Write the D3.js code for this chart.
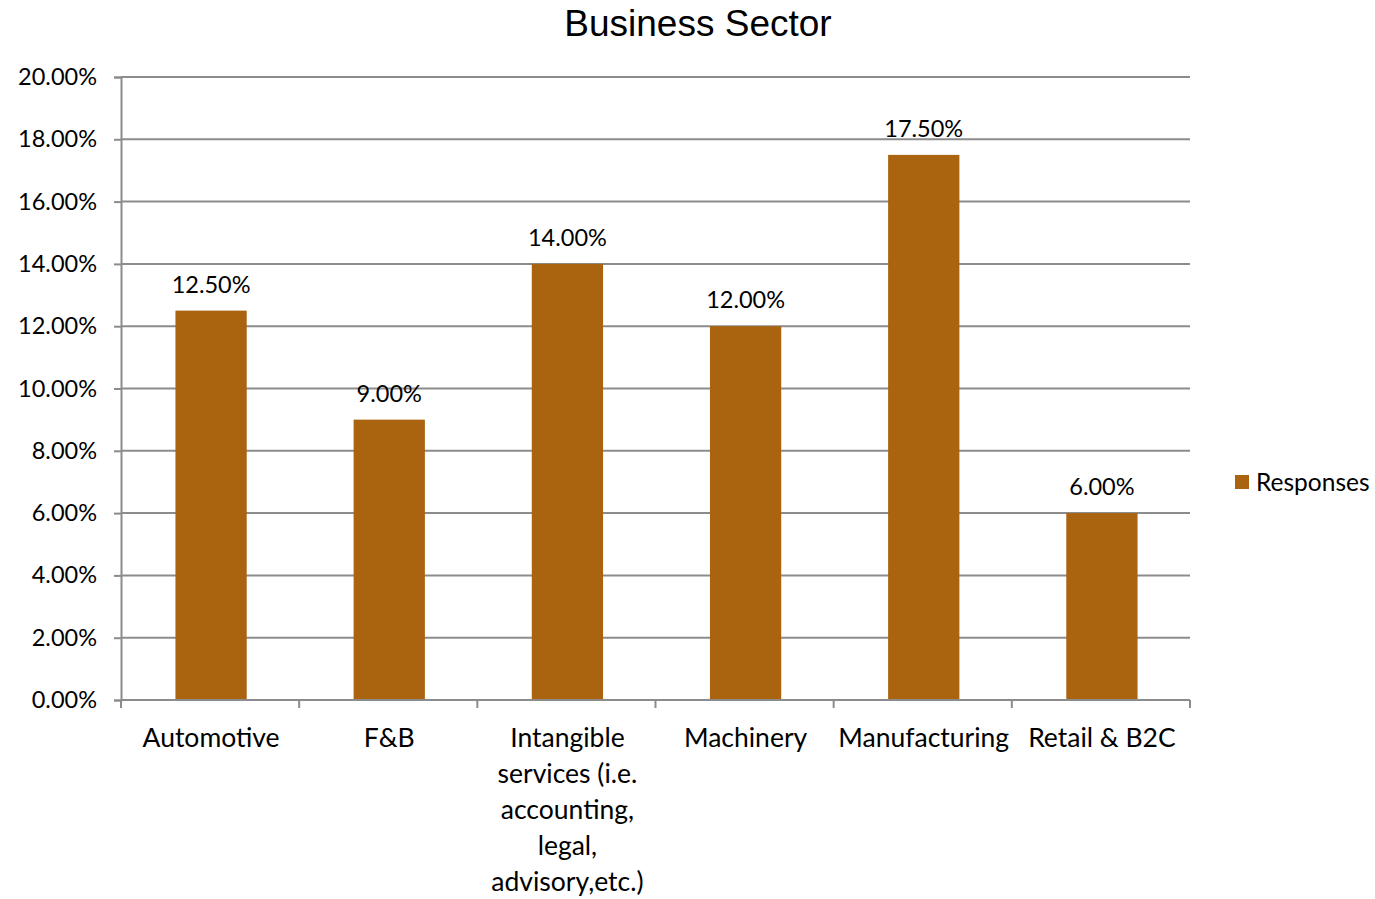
<!DOCTYPE html>
<html>
<head>
<meta charset="utf-8">
<script src="https://cdn.jsdelivr.net/npm/d3@7"></script>
<style>
  html, body { margin: 0; padding: 0; background: #fff; }
  svg { display: block; }
</style>
</head>
<body>
<svg id="chart" width="1375" height="899"></svg>
<script>
// Share of responses by business sector
const categories = [
  "Automotive",
  "F&B",
  "Intangible services (i.e. accounting, legal, advisory,etc.)",
  "Machinery",
  "Manufacturing",
  "Retail & B2C"
];
const categoryLines = [
  ["Automotive"],
  ["F&B"],
  ["Intangible", "services (i.e.", "accounting,", "legal,", "advisory,etc.)"],
  ["Machinery"],
  ["Manufacturing"],
  ["Retail & B2C"]
];
const responses = [0.125, 0.09, 0.14, 0.12, 0.175, 0.06];
const yTicks = [0, 0.02, 0.04, 0.06, 0.08, 0.10, 0.12, 0.14, 0.16, 0.18, 0.20];
const seriesName = "Responses";
const chartTitle = "Business Sector";

const barColor = "#AA6410";
const gridColor = "#8C8C8C";
const bodyFont = "Lato, 'Open Sans', sans-serif";

const svg = d3.select("#chart");
const plot = { left: 121, right: 1190, top: 77, bottom: 700 };

const x = d3.scaleBand()
  .domain(categories)
  .range([plot.left, plot.right])
  .paddingInner(0.6)
  .paddingOuter(0.3);

const y = d3.scaleLinear()
  .domain([0, 0.20])
  .range([plot.bottom, plot.top]);

const pct = d3.format(".2%");

// Horizontal gridlines
svg.append("g")
  .selectAll("line")
  .data(yTicks.filter(d => d > 0))
  .join("line")
  .attr("x1", plot.left)
  .attr("x2", plot.right)
  .attr("y1", d => y(d))
  .attr("y2", d => y(d))
  .attr("stroke", gridColor)
  .attr("stroke-width", 2);

// Y axis
const yAxis = svg.append("g")
  .attr("transform", `translate(${plot.left},0)`)
  .call(d3.axisLeft(y).tickValues(yTicks).tickFormat(pct).tickSize(7).tickPadding(17));
yAxis.select(".domain").attr("stroke", gridColor).attr("stroke-width", 2);
yAxis.selectAll(".tick line").attr("stroke", gridColor).attr("stroke-width", 2);
yAxis.selectAll(".tick text")
  .attr("font-family", bodyFont)
  .attr("font-size", 23.5)
  .attr("fill", "#000");

// Bars
svg.append("g")
  .selectAll("rect")
  .data(responses)
  .join("rect")
  .attr("x", (d, i) => x(categories[i]) + 1)
  .attr("y", d => y(d))
  .attr("width", x.bandwidth())
  .attr("height", d => y(0) - y(d))
  .attr("fill", barColor);

// X axis with category boundary ticks
const xAxisG = svg.append("g").attr("transform", `translate(0,${plot.bottom})`);
xAxisG.append("line")
  .attr("x1", plot.left)
  .attr("x2", plot.right)
  .attr("stroke", gridColor)
  .attr("stroke-width", 2);
const step = (plot.right - plot.left) / categories.length;
xAxisG.selectAll("line.tick")
  .data(d3.range(categories.length + 1))
  .join("line")
  .attr("class", "tick")
  .attr("x1", i => plot.left + i * step)
  .attr("x2", i => plot.left + i * step)
  .attr("y1", 0)
  .attr("y2", 8)
  .attr("stroke", gridColor)
  .attr("stroke-width", 2);

// Category labels (wrapped)
xAxisG.selectAll("text.cat")
  .data(categories)
  .join("text")
  .attr("class", "cat")
  .attr("text-anchor", "middle")
  .attr("font-family", bodyFont)
  .attr("font-size", 26.5)
  .attr("fill", "#000")
  .each(function (d, i) {
    const t = d3.select(this);
    categoryLines[i].forEach((line, k) => {
      t.append("tspan")
        .attr("x", x(d) + x.bandwidth() / 2 + 1)
        .attr("y", 47 + k * 36)
        .text(line);
    });
  });

// Value labels
svg.append("g")
  .selectAll("text")
  .data(responses)
  .join("text")
  .attr("x", (d, i) => x(categories[i]) + x.bandwidth() / 2 + 1)
  .attr("y", d => y(d) - 18)
  .attr("text-anchor", "middle")
  .attr("font-family", bodyFont)
  .attr("font-size", 23.5)
  .attr("fill", "#000")
  .text(d => pct(d));

// Legend
const legend = svg.append("g").attr("transform", "translate(1235,475)");
legend.append("rect").attr("width", 14).attr("height", 14).attr("fill", barColor);
legend.append("text")
  .attr("x", 21)
  .attr("y", 16)
  .attr("font-family", bodyFont)
  .attr("font-size", 24.5)
  .attr("fill", "#000")
  .text(seriesName);

// Title
svg.append("text")
  .attr("x", 698)
  .attr("y", 36)
  .attr("text-anchor", "middle")
  .attr("font-family", "'Liberation Sans', Arial, sans-serif")
  .attr("font-size", 37)
  .attr("fill", "#000")
  .text(chartTitle);
</script>
</body>
</html>
